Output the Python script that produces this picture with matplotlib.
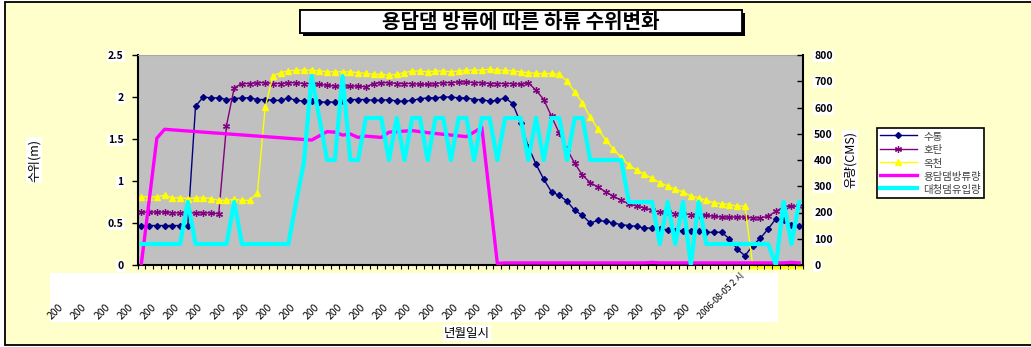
import matplotlib
matplotlib.use("Agg")
import matplotlib.pyplot as plt
import matplotlib.transforms as mtransforms
import matplotlib.patheffects as pe
from matplotlib.patches import Rectangle
import numpy as np

plt.rcParams["font.family"] = ["Noto Sans CJK KR", "DejaVu Sans"]

# water level (m), left axis
sutong = [0.47, 0.47, 0.47, 0.47, 0.47, 0.47, 0.47, 1.89, 2.00, 1.99,
          1.99, 1.97, 1.98, 1.99, 1.99, 1.97, 1.97, 1.96, 1.96, 1.99,
          1.96, 1.95, 1.95, 1.94, 1.94, 1.94, 1.95, 1.97, 1.97, 1.97,
          1.96, 1.96, 1.97, 1.95, 1.95, 1.96, 1.98, 1.99, 1.99, 2.00,
          2.00, 1.99, 1.99, 1.97, 1.97, 1.95, 1.96, 1.99, 1.92, 1.69,
          1.41, 1.20, 1.02, 0.87, 0.83, 0.76, 0.65, 0.59, 0.50, 0.53,
          0.52, 0.50, 0.48, 0.47, 0.46, 0.44, 0.44, 0.43, 0.42, 0.41,
          0.41, 0.41, 0.41, 0.39, 0.39, 0.39, 0.31, 0.19, 0.11, 0.23,
          0.32, 0.43, 0.55, 0.53, 0.48, 0.47]
hotan = [0.63, 0.63, 0.63, 0.63, 0.62, 0.62, 0.62, 0.62, 0.62, 0.62,
         0.61, 1.66, 2.11, 2.16, 2.16, 2.17, 2.17, 2.16, 2.16, 2.17,
         2.17, 2.16, 2.16, 2.15, 2.14, 2.13, 2.13, 2.13, 2.13, 2.12,
         2.16, 2.17, 2.17, 2.16, 2.16, 2.16, 2.15, 2.15, 2.16, 2.17,
         2.17, 2.18, 2.18, 2.17, 2.17, 2.16, 2.16, 2.16, 2.16, 2.15,
         2.17, 2.08, 1.97, 1.77, 1.57, 1.38, 1.21, 1.07, 0.98, 0.93,
         0.87, 0.82, 0.77, 0.73, 0.70, 0.68, 0.65, 0.63, 0.63, 0.61,
         0.61, 0.60, 0.59, 0.59, 0.58, 0.57, 0.57, 0.57, 0.57, 0.56,
         0.56, 0.58, 0.64, 0.69, 0.70, 0.70]
okcheon = [0.81, 0.81, 0.81, 0.83, 0.80, 0.80, 0.79, 0.80, 0.80, 0.79,
           0.77, 0.77, 0.78, 0.77, 0.77, 0.86, 1.88, 2.25, 2.29, 2.31,
           2.32, 2.32, 2.32, 2.31, 2.30, 2.30, 2.30, 2.30, 2.29, 2.28,
           2.27, 2.27, 2.26, 2.27, 2.29, 2.31, 2.31, 2.30, 2.31, 2.31,
           2.30, 2.31, 2.32, 2.32, 2.32, 2.33, 2.32, 2.32, 2.31, 2.30,
           2.29, 2.28, 2.28, 2.28, 2.27, 2.19, 2.06, 1.93, 1.76, 1.62,
           1.49, 1.38, 1.28, 1.19, 1.13, 1.08, 1.03, 0.98, 0.94, 0.90,
           0.87, 0.82, 0.80, 0.77, 0.74, 0.73, 0.72, 0.70, 0.70, 0.0,
           0.0, 0.0, 0.0, 0.0, 0.0, 0.0]

# discharge (CMS), right axis; None = blank cell (line joins across)
yongdam_out = [5, None, 483, 517, None, None, None, None, None, None,
               None, None, None, None, None, None, None, None, None, None,
               None, None, 476, None, 508, 506, 495, 499, 486, 491,
               None, 486, 506, None, None, 512, None, 504, None, None,
               495, None, 489, None, 524, None, 6, 8, 8, 8,
               8, 8, 8, 8, 8, 8, 8, 8, 8, 8,
               8, 8, 8, 8, 8, 8, 10, 8, 8, 8,
               8, 8, 8, 8, 8, 8, 8, 8, 8, 8,
               8, 8, 8, 8, 10, 8]
daecheong_in = [80, 80, 80, 80, 80, 80, 240, 80, 80, 80,
                80, 80, 240, 80, 80, 80, 80, 80, 80, 80,
                240, 390, 720, 560, 400, 400, 720, 400, 400, 560,
                560, 560, 400, 560, 400, 560, 560, 400, 560, 560,
                400, 560, 560, 400, 560, 560, 400, 560, 560, 560,
                400, 560, 400, 560, 560, 400, 560, 560, 400, 400,
                400, 400, 400, 240, 240, 240, 240, 80, 240, 80,
                240, 0, 240, 80, 80, 80, 80, 80, 80, 80,
                80, 80, 0, 240, 80, 240]

tick_idx = list(range(1, 86, 3))
tick_labels = ["200"] * 28 + ["2006-08-05 2 시"]

W, H = 1031, 347
fig = plt.figure(figsize=(W / 100, H / 100), dpi=100)
fig.patch.set_facecolor("white")
fig.add_artist(Rectangle((5 / W, 1 - 345 / H), 1.0, 343 / H, transform=fig.transFigure,
                         facecolor="#FFFFCC", edgecolor="black", lw=1.3, zorder=-10))
fig.add_artist(Rectangle((50 / W, 1 - 322 / H), 728 / W, 49 / H, transform=fig.transFigure,
                         facecolor="white", edgecolor="none", zorder=-5))

ax = fig.add_axes([137.5 / W, 1 - 265 / H, 665.5 / W, 210 / H])
ax.set_facecolor("#C0C0C0")
ax2 = ax.twinx()

x = np.arange(len(sutong))
l1, = ax.plot(x, sutong, color="#000080", marker="D", ms=3, lw=1, label="수통")
l2, = ax.plot(x, hotan, color="#800080", marker=(6, 2, 0), ms=5, mew=0.9, lw=1, label="호탄")
l3, = ax.plot(x, okcheon, color="#FFFF00", marker="^", ms=4.5, lw=1, label="옥천", clip_on=False)

px = [i for i, v in enumerate(yongdam_out) if v is not None]
py = [v for v in yongdam_out if v is not None]
l4, = ax2.plot(px, py, color="#FF00FF", lw=2.4, label="용담댐방류량")
l5, = ax2.plot(x, daecheong_in, color="#00FFFF", lw=3.0, label="대청댐유입량")

ax.set_xlim(-0.5, len(sutong) - 0.5)
ax.set_ylim(0, 2.5)
ax2.set_ylim(0, 800)

ax.set_yticks([0, 0.5, 1, 1.5, 2, 2.5])
ax.set_yticklabels(["0", "0.5", "1", "1.5", "2", "2.5"])
ax2.set_yticks(range(0, 801, 100))
ax.set_xticks(np.arange(-0.5, len(sutong), 1))
ax.set_xticklabels([])

ax.tick_params(axis="y", direction="out", length=4, width=1, pad=6, labelsize=7.5)
ax.tick_params(axis="x", direction="out", length=3, width=0.8)
ax2.tick_params(axis="y", direction="in", length=4, width=1, pad=8, labelsize=7.5)
for t in ax.get_yticklabels() + ax2.get_yticklabels():
    t.set_fontweight("bold")
    t.set_bbox(dict(facecolor="white", edgecolor="none", pad=0.8))

for s in ["left", "bottom"]:
    ax.spines[s].set_linewidth(1.5)
ax.spines["top"].set_color("#A8A8A8")
ax.spines["right"].set_visible(False)
ax2.spines["right"].set_linewidth(1.5)
ax2.spines["top"].set_visible(False)
ax2.spines["left"].set_visible(False)
ax2.spines["bottom"].set_visible(False)

trans = mtransforms.blended_transform_factory(ax.transData, ax.transAxes) + \
    mtransforms.ScaledTranslation(-96 / 100, -56 / 100, fig.dpi_scale_trans)
for i, lab in zip(tick_idx, tick_labels):
    ax.text(i, 0, lab, transform=trans, rotation=45, rotation_mode="anchor",
            ha="left", va="bottom", fontsize=7.5 if lab == "200" else 6.3, clip_on=False)

fig.text(467 / W, 1 - 333 / H, "년월일시", ha="center", va="center", fontsize=9,
         bbox=dict(facecolor="white", edgecolor="none", pad=1))
fig.text(34 / W, 1 - 160 / H, "수위(m)", ha="center", va="center", rotation=90, fontsize=9,
         bbox=dict(facecolor="white", edgecolor="none", pad=1))
fig.text(850 / W, 1 - 160 / H, "유량(CMS)", ha="center", va="center", rotation=90, fontsize=9,
         bbox=dict(facecolor="white", edgecolor="none", pad=1))

# title box with drop shadow
box = Rectangle((300 / W, 1 - 33 / H), 442 / W, 23 / H, transform=fig.transFigure,
                facecolor="white", edgecolor="black", lw=1.3, zorder=2)
box.set_path_effects([pe.withSimplePatchShadow(offset=(2.5, -2.5), shadow_rgbFace="black", alpha=1),
                      pe.Normal()])
fig.add_artist(box)
fig.text(521 / W, 1 - 21.5 / H, "용담댐 방류에 따른 하류 수위변화", ha="center", va="center",
         fontsize=14.5, fontweight="bold", zorder=3)

leg = fig.legend([l1, l2, l3, l4, l5], [l.get_label() for l in [l1, l2, l3, l4, l5]],
                 loc="upper left", bbox_to_anchor=(877 / W, 1 - 128 / H), bbox_transform=fig.transFigure,
                 fontsize=7.5, frameon=True, fancybox=False, edgecolor="black", framealpha=1,
                 borderpad=0.25, labelspacing=0.12, handlelength=3.6, handleheight=1.4,
                 handletextpad=0.6, borderaxespad=0)
leg.get_frame().set_linewidth(1.2)
for t in leg.get_texts():
    t.set_color("#404040")

fig.savefig("out.png", dpi=100)
